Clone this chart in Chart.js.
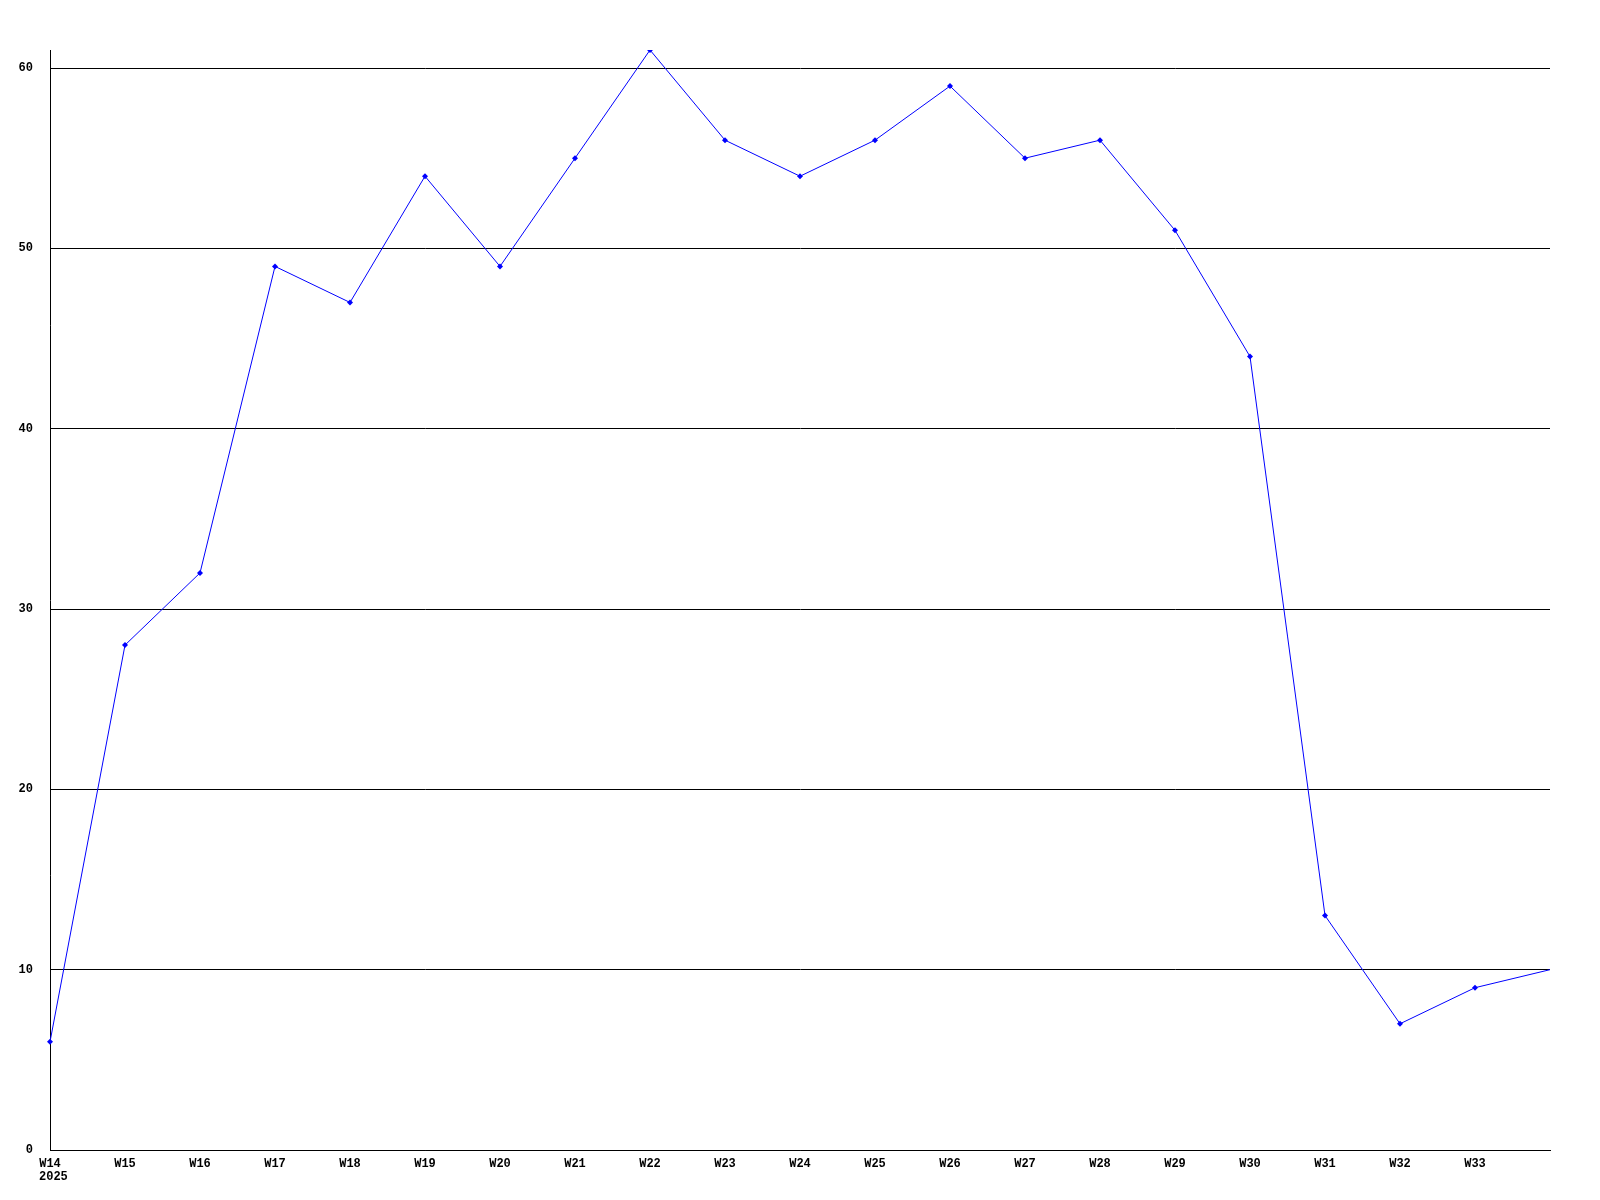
<!DOCTYPE html>
<html>
<head>
<meta charset="utf-8">
<script src="https://cdn.jsdelivr.net/npm/chart.js@4/dist/chart.umd.min.js"></script>
<style>
html,body{margin:0;padding:0;background:#fff;}
#wrap{width:1600px;height:1200px;}
</style>
</head>
<body>
<div id="wrap"><canvas id="c" width="1600" height="1200"></canvas></div>
<script>
const categories = ["W14","W15","W16","W17","W18","W19","W20","W21","W22","W23","W24","W25","W26","W27","W28","W29","W30","W31","W32","W33","W34"];
const values = [6,28,32,49,47,54,49,55,61,56,54,56,59,55,56,51,44,13,7,9,10];
const yearLabel = "2025";
const yTicks = [0,10,20,30,40,50,60];

const FONT = {family: "'Liberation Mono', 'DejaVu Sans Mono', monospace", size: 12, weight: 'bold'};

const yearPlugin = {
  id: 'year',
  afterDraw(chart) {
    const x = chart.scales.x.getPixelForValue(0);
    const ctx = chart.ctx;
    ctx.save();
    ctx.font = "bold 12px 'Liberation Mono', 'DejaVu Sans Mono', monospace";
    ctx.fillStyle = '#000';
    ctx.textAlign = 'left';
    ctx.textBaseline = 'middle';
    ctx.fillText(yearLabel, x - 11, chart.chartArea.bottom + 27);
    ctx.restore();
  }
};

new Chart(document.getElementById('c'), {
  type: 'line',
  data: {
    labels: categories,
    datasets: [{
      data: values,
      borderColor: '#0000ff',
      backgroundColor: '#0000ff',
      borderWidth: 1,
      pointStyle: 'rectRot',
      pointRadius: values.map((v, i) => i === values.length - 1 ? 0 : 3),
      pointBorderWidth: 0,
      tension: 0,
      fill: false
    }]
  },
  options: {
    responsive: false,
    animation: false,
    devicePixelRatio: 1,
    layout: {padding: {top: 50, right: 50, left: 0, bottom: 0}},
    plugins: {legend: {display: false}, tooltip: {enabled: false}},
    scales: {
      x: {
        type: 'category',
        offset: false,
        grid: {display: false, drawTicks: false},
        border: {display: true, color: '#000', width: 1},
        ticks: {
          color: '#000', font: FONT, autoSkip: false, maxRotation: 0, padding: 7,
          callback: function(v, i) { return i === categories.length - 1 ? '' : categories[i]; }
        },
        afterFit(s) { s.height = 50; }
      },
      y: {
        min: 0, max: 61,
        grid: {display: true, color: '#000', lineWidth: 1, drawTicks: false},
        border: {display: true, color: '#000', width: 1},
        ticks: {color: '#000', font: FONT, padding: 17, stepSize: 10},
        afterBuildTicks(s) { s.ticks = yTicks.map(v => ({value: v})); },
        afterFit(s) { s.width = 50; }
      }
    }
  },
  plugins: [yearPlugin]
});
</script>
</body>
</html>
